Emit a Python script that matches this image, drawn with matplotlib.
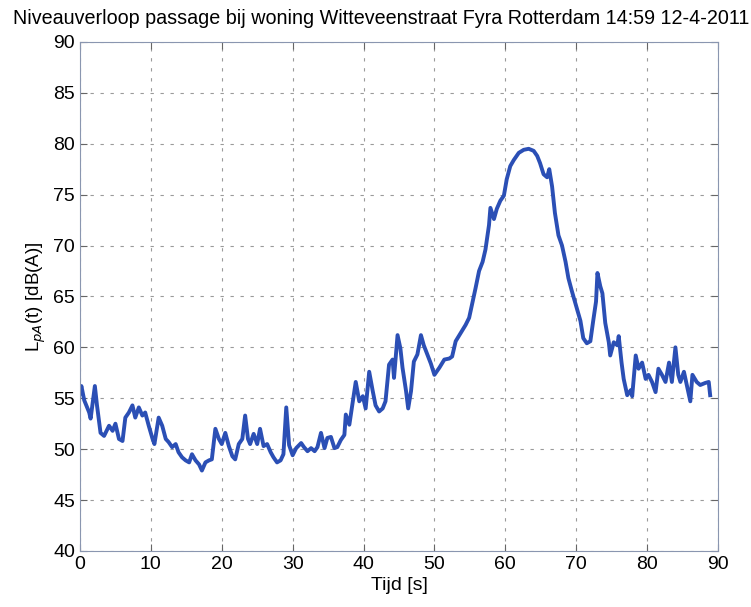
import matplotlib.pyplot as plt

plt.rcParams['font.family'] = ['Liberation Sans', 'DejaVu Sans']

# tijd (s) en niveau LpA (dB(A))
tijd = [0.0, 0.2, 0.6, 1.3, 1.5, 2.1, 2.4, 2.9, 3.4, 4.1, 4.6, 5.0, 5.5, 6.0, 6.4,
        6.9, 7.4, 7.8, 8.3, 8.8, 9.2, 9.7, 10.2, 10.5, 11.1, 11.6, 12.1, 12.5, 13.0,
        13.5, 13.9, 14.4, 14.9, 15.4, 15.8, 16.3, 16.8, 17.2, 17.7, 18.2, 18.6, 19.1,
        19.6, 20.0, 20.5, 21.0, 21.5, 21.9, 22.4, 22.9, 23.3, 23.7, 24.0, 24.5, 25.0,
        25.4, 25.9, 26.4, 26.9, 27.3, 27.8, 28.3, 28.7, 29.1, 29.5, 30.0, 30.5, 31.2,
        31.6, 32.1, 32.6, 33.1, 33.5, 34.0, 34.5, 34.9, 35.4, 35.9, 36.3, 36.8, 37.3,
        37.5, 38.0, 38.5, 38.9, 39.4, 39.9, 40.3, 40.8, 41.3, 41.7, 42.2, 42.7, 43.1,
        43.6, 44.1, 44.3, 44.8, 45.2, 45.5, 46.0, 46.3, 46.7, 47.1, 47.6, 48.1, 48.5,
        49.0, 49.5, 50.0, 50.7, 51.4, 52.1, 52.5, 53.0, 53.7, 54.4, 54.9, 55.4, 55.8,
        56.3, 56.8, 57.2, 57.7, 57.9, 58.4, 58.8, 59.3, 59.8, 60.2, 60.7, 61.2, 61.9,
        62.6, 63.3, 64.0, 64.5, 64.9, 65.4, 65.9, 66.2, 66.6, 67.0, 67.5, 68.0, 68.5,
        68.9, 69.4, 70.1, 70.6, 71.0, 71.5, 72.0, 72.4, 72.8, 73.0, 73.4, 73.7, 74.1,
        74.6, 74.8, 75.3, 75.8, 76.0, 76.4, 76.7, 77.2, 77.7, 77.9, 78.4, 78.8, 79.3,
        79.8, 80.2, 80.7, 81.2, 81.6, 82.1, 82.6, 83.1, 83.5, 84.0, 84.4, 84.7, 85.2,
        85.6, 86.1, 86.4, 87.0, 87.5, 88.2, 88.7, 88.9]
lpa = [55.5, 56.2, 54.8, 53.6, 53.0, 56.2, 54.3, 51.6, 51.3, 52.3, 51.8, 52.5, 51.0,
       50.8, 53.1, 53.6, 54.3, 53.1, 54.1, 53.3, 53.6, 52.3, 51.1, 50.5, 53.1, 52.3,
       51.0, 50.7, 50.2, 50.5, 49.7, 49.2, 48.9, 48.7, 49.5, 48.9, 48.5, 47.9, 48.7,
       48.9, 49.0, 52.0, 51.0, 50.5, 51.6, 50.3, 49.3, 49.0, 50.5, 51.0, 53.3, 51.0,
       50.5, 51.5, 50.5, 52.0, 50.3, 50.5, 49.7, 49.2, 48.7, 48.9, 49.5, 54.1, 50.4,
       49.4, 50.1, 50.6, 50.2, 49.8, 50.1, 49.8, 50.2, 51.6, 50.1, 51.1, 51.2, 50.1,
       50.2, 50.9, 51.4, 53.4, 52.4, 54.7, 56.6, 54.7, 55.2, 54.0, 57.6, 55.7, 54.3,
       53.7, 54.0, 54.7, 58.3, 58.8, 57.0, 61.2, 59.9, 58.0, 55.7, 54.0, 55.7, 58.6,
       59.3, 61.2, 60.2, 59.3, 58.4, 57.3, 58.0, 58.8, 58.9, 59.1, 60.6, 61.4, 62.2,
       62.9, 64.5, 65.8, 67.5, 68.4, 69.6, 72.0, 73.7, 72.6, 73.6, 74.4, 74.9, 76.5,
       77.8, 78.4, 79.1, 79.4, 79.5, 79.3, 78.8, 78.1, 77.0, 76.7, 77.5, 75.8, 73.2,
       71.0, 70.0, 68.4, 66.8, 65.5, 63.8, 62.6, 60.9, 60.4, 60.6, 62.6, 64.5, 67.3,
       66.0, 65.3, 62.4, 60.5, 59.2, 60.5, 60.2, 61.1, 58.5, 56.9, 55.3, 55.8, 55.2,
       59.2, 57.9, 58.5, 56.9, 57.3, 56.6, 55.6, 57.9, 57.3, 56.6, 58.5, 56.6, 60.0,
       57.3, 56.6, 57.6, 56.3, 54.7, 57.3, 56.6, 56.3, 56.5, 56.6, 55.3]

fig = plt.figure(figsize=(7.51, 6.07), dpi=100)
ax = fig.add_axes([0.1065, 0.0923, 0.8495, 0.8387])

ax.plot(tijd, lpa, color='#2b4fb5', linewidth=2.8)

ax.set_xlim(0, 90)
ax.set_ylim(40, 90)
ax.set_xticks(range(0, 91, 10))
ax.set_yticks(range(40, 91, 5))
ax.grid(True, linestyle=(0, (3, 6)), color='#9a9a9a', linewidth=0.8)
ax.tick_params(direction='in', top=True, right=True, labelsize=14, length=5,
               color='#666666')
for s in ax.spines.values():
    s.set_color('#8a96b0')

ax.set_xlabel("Tijd [s]", fontsize=14, labelpad=3)
ax.set_ylabel("L$_{pA}$(t) [dB(A)]", fontsize=13.5, labelpad=4)
fig.text(0.508, 0.97, "Niveauverloop passage bij woning Witteveenstraat Fyra Rotterdam 14:59 12-4-2011",
         ha='center', va='center', fontsize=14.2)

plt.savefig("out.png", dpi=100)
